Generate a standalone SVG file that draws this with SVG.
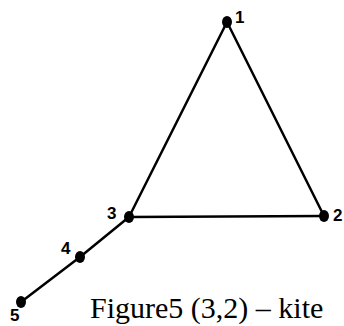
<svg xmlns="http://www.w3.org/2000/svg" width="344" height="326" viewBox="0 0 344 326">
<style>
.e{stroke:#000;stroke-width:2.5;fill:none;stroke-linecap:round}
.d{fill:#000}
.l{font-family:"Liberation Sans",Arial,sans-serif;font-weight:bold;font-size:17px;fill:#000}
.c{font-family:"Liberation Serif","Times New Roman",serif;font-size:30px;fill:#000}
</style>
<rect width="344" height="326" fill="#fff"/>
<g id="edges">
<line class="e" x1="227" y1="22" x2="324" y2="216"/>
<line class="e" x1="227" y1="22" x2="129" y2="217"/>
<line class="e" x1="129" y1="217" x2="324" y2="216"/>
<line class="e" x1="129" y1="217" x2="80" y2="257"/>
<line class="e" x1="80" y1="257" x2="21" y2="302"/>
</g>
<g id="n1"><ellipse class="d" cx="227" cy="22" rx="5" ry="6"/><text class="l" x="235" y="23">1</text></g>
<g id="n2"><ellipse class="d" cx="324" cy="216" rx="5" ry="6"/><text class="l" x="333" y="221">2</text></g>
<g id="n3"><ellipse class="d" cx="129" cy="217" rx="5" ry="6"/><text class="l" x="107" y="219">3</text></g>
<g id="n4"><ellipse class="d" cx="80" cy="257" rx="5" ry="6"/><text class="l" x="61" y="254">4</text></g>
<g id="n5"><ellipse class="d" cx="21" cy="302" rx="5" ry="6"/><text class="l" x="10" y="321">5</text></g>
<text class="c" x="90" y="318">Figure5 (3,2) – kite</text>
</svg>
